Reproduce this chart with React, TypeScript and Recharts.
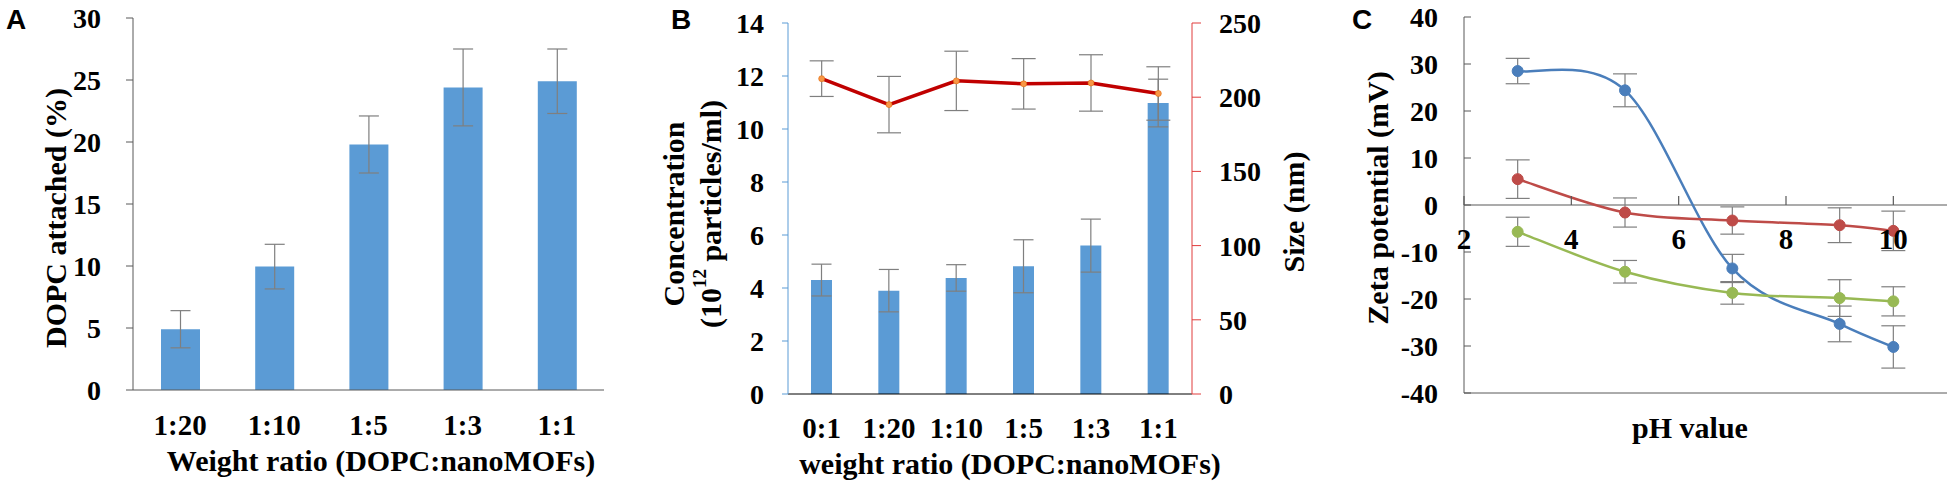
import React from 'react';
import {
  ComposedChart,
  LineChart,
  Bar,
  Line,
  XAxis,
  YAxis,
  ErrorBar,
  ReferenceLine,
  Label,
} from 'recharts';

// Panel A
const ratiosA = ['1:20', '1:10', '1:5', '1:3', '1:1'];
const attachedA = [4.9, 9.95, 19.8, 24.4, 24.9];
const attachedErrA = [1.5, 1.8, 2.3, 3.1, 2.6];
const ticksA = [0, 5, 10, 15, 20, 25, 30];

// Panel B
const ratiosB = ['0:1', '1:20', '1:10', '1:5', '1:3', '1:1'];
const concB = [4.3, 3.9, 4.38, 4.82, 5.6, 10.98];
const concErrB = [0.6, 0.8, 0.5, 1.0, 1.0, 0.9];
const sizeB = [212.5, 195, 211, 209, 209.6, 202.5];
const sizeErrB = [12, 19, 20, 17, 19, 18];
const concTicks = [0, 2, 4, 6, 8, 10, 12, 14];
const sizeTicks = [0, 50, 100, 150, 200, 250];

// Panel C
const phValues = [3, 5, 7, 9, 10];
const zetaBlue = [28.5, 24.4, -13.5, -25.3, -30.2];
const zetaBlueErr = [2.7, 3.5, 3.0, 3.8, 4.5];
const zetaRed = [5.5, -1.6, -3.3, -4.3, -5.5];
const zetaRedErr = [4.1, 3.1, 2.9, 3.7, 4.2];
const zetaGreen = [-5.7, -14.2, -18.7, -19.8, -20.5];
const zetaGreenErr = [3.1, 2.4, 2.4, 3.9, 3.1];
const phTicks = [2, 4, 6, 8, 10];
const zetaTicks = [-40, -30, -20, -10, 0, 10, 20, 30, 40];

const dataA = ratiosA.map((r, i) => ({ ratio: r, value: attachedA[i], err: attachedErrA[i] }));
const dataB = ratiosB.map((r, i) => ({
  ratio: r,
  conc: concB[i],
  concErr: concErrB[i],
  size: sizeB[i],
  sizeErr: sizeErrB[i],
}));
const dataC = phValues.map((ph, i) => ({
  ph,
  blue: zetaBlue[i],
  blueErr: zetaBlueErr[i],
  red: zetaRed[i],
  redErr: zetaRedErr[i],
  green: zetaGreen[i],
  greenErr: zetaGreenErr[i],
}));

const SERIF = '"Liberation Serif", "Times New Roman", serif';
const SANS = '"Liberation Sans", Arial, sans-serif';
const BAR_BLUE = '#5B9BD5';
const ERR = '#7F7F7F';
const AXIS = '#595959';

const tickFont = { fontFamily: SERIF, fontWeight: 700, fontSize: 28, fill: '#000' };
const catFont = { fontFamily: SERIF, fontWeight: 700, fontSize: 29, fill: '#000' };
const titleStyle = { fontFamily: SERIF, fontWeight: 700, fontSize: 30, fill: '#000' };

// Excel-style smoothed line (Catmull-Rom through the points, as a d3 curve factory)
function smoothCurve(context: any) {
  let pts: [number, number][] = [];
  return {
    areaStart() {},
    areaEnd() {},
    lineStart() {
      pts = [];
    },
    point(x: number, y: number) {
      pts.push([+x, +y]);
    },
    lineEnd() {
      if (!pts.length) return;
      context.moveTo(pts[0][0], pts[0][1]);
      for (let i = 0; i < pts.length - 1; i++) {
        const p0 = pts[Math.max(i - 1, 0)];
        const p1 = pts[i];
        const p2 = pts[i + 1];
        const p3 = pts[Math.min(i + 2, pts.length - 1)];
        context.bezierCurveTo(
          p1[0] + (p2[0] - p0[0]) / 6,
          p1[1] + (p2[1] - p0[1]) / 6,
          p2[0] - (p3[0] - p1[0]) / 6,
          p2[1] - (p3[1] - p1[1]) / 6,
          p2[0],
          p2[1],
        );
      }
    },
  };
}

function VTitle({ x, y, children }: { x: number; y: number; children: React.ReactNode }) {
  return (
    <text
      x={x}
      y={y}
      transform={`rotate(-90 ${x} ${y})`}
      textAnchor="middle"
      dominantBaseline="central"
      style={titleStyle}
    >
      {children}
    </text>
  );
}

function HTitle({ x, y, children }: { x: number; y: number; children: React.ReactNode }) {
  return (
    <text x={x} y={y} textAnchor="middle" style={titleStyle}>
      {children}
    </text>
  );
}

// plot box of panel C, used to put the pH labels under the zero line
const C_TOP = 17;
const C_BOTTOM = 393;

function PhTick(props: any) {
  const { x, payload } = props;
  const zeroY = C_TOP + ((C_BOTTOM - C_TOP) * 40) / 80;
  return (
    <g>
      <line x1={x} x2={x} y1={zeroY} y2={zeroY - 9} stroke={AXIS} strokeWidth={1.2} />
      <text x={x} y={zeroY + 44} textAnchor="middle" style={catFont}>
        {payload.value}
      </text>
    </g>
  );
}

function PanelLetter({ left, children }: { left: number; children: string }) {
  return (
    <div
      style={{
        position: 'absolute',
        left,
        top: 4,
        fontFamily: SANS,
        fontWeight: 700,
        fontSize: 28,
        lineHeight: '32px',
      }}
    >
      {children}
    </div>
  );
}

function ChartA() {
  return (
    <ComposedChart width={620} height={490} data={dataA} margin={{ top: 18, right: 16, bottom: 0, left: 0 }}>
      <XAxis xAxisId="top" orientation="top" dataKey="ratio" height={0} tick={false} tickLine={false} stroke={AXIS} />
      <XAxis
        dataKey="ratio"
        height={100}
        tickLine={false}
        tickSize={0}
        tickMargin={24}
        tick={catFont}
        stroke={AXIS}
        interval={0}
      >
        <Label content={() => <HTitle x={381} y={471}>Weight ratio (DOPC:nanoMOFs)</HTitle>} />
      </XAxis>
      <YAxis
        domain={[0, 30]}
        ticks={ticksA}
        width={133}
        tickSize={7}
        tickMargin={25}
        tick={tickFont}
        stroke={AXIS}
        interval={0}
      >
        <Label content={() => <VTitle x={55} y={218}>DOPC attached (%)</VTitle>} />
      </YAxis>
      <YAxis yAxisId="right" orientation="right" domain={[0, 30]} width={0} tick={false} tickLine={false} stroke={AXIS} />
      <Bar dataKey="value" fill={BAR_BLUE} barSize={39} isAnimationActive={false}>
        <ErrorBar dataKey="err" width={10} stroke={ERR} strokeWidth={1.2} direction="y" />
      </Bar>
    </ComposedChart>
  );
}

function ChartB() {
  return (
    <ComposedChart width={680} height={490} data={dataB} margin={{ top: 23, right: 20, bottom: 0, left: 0 }}>
      <XAxis xAxisId="top" orientation="top" dataKey="ratio" height={0} tick={false} tickLine={false} stroke="#000" />
      <XAxis
        dataKey="ratio"
        height={96}
        tickLine={false}
        tickSize={0}
        tickMargin={23}
        tick={catFont}
        stroke="#000"
        interval={0}
      >
        <Label content={() => <HTitle x={370} y={474}>weight ratio (DOPC:nanoMOFs)</HTitle>} />
      </XAxis>
      <YAxis
        yAxisId="conc"
        domain={[0, 14]}
        ticks={concTicks}
        width={148}
        tickSize={6}
        tickMargin={18}
        tick={tickFont}
        stroke={BAR_BLUE}
        interval={0}
      >
        <Label
          content={() => (
            <g>
              <VTitle x={33} y={214}>Concentration</VTitle>
              <VTitle x={70} y={214}>
                (10<tspan baselineShift="super" fontSize={19}>12</tspan> particles/ml)
              </VTitle>
            </g>
          )}
        />
      </YAxis>
      <YAxis
        yAxisId="size"
        orientation="right"
        domain={[0, 250]}
        ticks={sizeTicks}
        width={108}
        tickSize={9}
        tickMargin={18}
        tick={tickFont}
        stroke="#E03C3C"
        interval={0}
      >
        <Label content={() => <VTitle x={653} y={212}>Size (nm)</VTitle>} />
      </YAxis>
      <Bar yAxisId="conc" dataKey="conc" fill={BAR_BLUE} barSize={21} isAnimationActive={false}>
        <ErrorBar dataKey="concErr" width={10} stroke={ERR} strokeWidth={1.2} direction="y" />
      </Bar>
      <Line
        yAxisId="size"
        dataKey="size"
        type="linear"
        stroke="#C00000"
        strokeWidth={3.5}
        dot={{ r: 3, fill: '#F79646', stroke: '#E26B0A', strokeWidth: 0.6 }}
        isAnimationActive={false}
      >
        <ErrorBar dataKey="sizeErr" width={12} stroke={ERR} strokeWidth={1.2} direction="y" />
      </Line>
    </ComposedChart>
  );
}

function ChartC() {
  const series = [
    { key: 'blue', err: 'blueErr', color: '#4A7EBB' },
    { key: 'red', err: 'redErr', color: '#BE4B48' },
    { key: 'green', err: 'greenErr', color: '#98B954' },
  ];
  return (
    <LineChart width={650} height={490} data={dataC} margin={{ top: C_TOP, right: 3, bottom: 0, left: 0 }}>
      <XAxis xAxisId="top" orientation="top" type="number" dataKey="ph" domain={[2, 11]} height={0} tick={false} tickLine={false} stroke={AXIS} />
      <XAxis
        type="number"
        dataKey="ph"
        domain={[2, 11]}
        ticks={phTicks}
        height={490 - C_BOTTOM}
        tickLine={false}
        tick={<PhTick />}
        stroke={AXIS}
        interval={0}
      >
        <Label content={() => <HTitle x={390} y={438}>pH value</HTitle>} />
      </XAxis>
      <YAxis
        domain={[-40, 40]}
        ticks={zetaTicks}
        width={164}
        tickSize={-7}
        tickMargin={33}
        tick={tickFont}
        stroke={AXIS}
        interval={0}
      >
        <Label content={() => <VTitle x={77} y={198}>Zeta potential (mV)</VTitle>} />
      </YAxis>
      <YAxis yAxisId="right" orientation="right" domain={[-40, 40]} width={0} tick={false} tickLine={false} stroke={AXIS} />
      <ReferenceLine y={0} stroke={AXIS} strokeWidth={1.2} />
      {series.map((s) => (
        <Line
          key={s.key}
          dataKey={s.key}
          type={smoothCurve as any}
          stroke={s.color}
          strokeWidth={2.5}
          dot={{ r: 5.5, fill: s.color, stroke: s.color, strokeWidth: 1 }}
          isAnimationActive={false}
        >
          <ErrorBar dataKey={s.err} width={12} stroke={ERR} strokeWidth={1.2} direction="y" />
        </Line>
      ))}
    </LineChart>
  );
}

export default function App() {
  return (
    <div style={{ position: 'absolute', left: 0, top: 0, width: 1950, height: 490, background: '#fff', overflow: 'hidden' }}>
      <div style={{ position: 'absolute', left: 0, top: 0 }}>
        <ChartA />
      </div>
      <div style={{ position: 'absolute', left: 640, top: 0 }}>
        <ChartB />
      </div>
      <div style={{ position: 'absolute', left: 1300, top: 0 }}>
        <ChartC />
      </div>
      <PanelLetter left={6}>A</PanelLetter>
      <PanelLetter left={671}>B</PanelLetter>
      <PanelLetter left={1352}>C</PanelLetter>
    </div>
  );
}
